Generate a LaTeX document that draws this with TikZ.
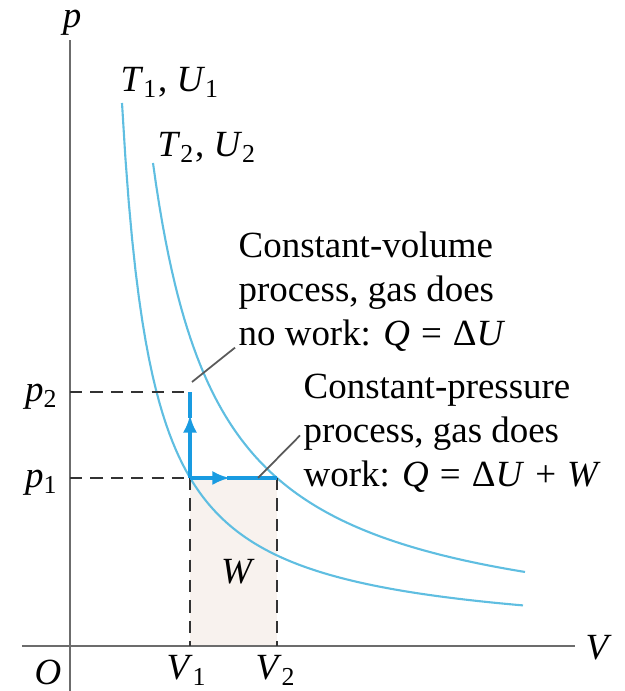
\documentclass[tikz,border=0pt]{standalone}
\usepackage{fontspec}
\setmainfont{Liberation Serif}
\usetikzlibrary{arrows.meta}

\definecolor{isoblue}{RGB}{95,190,225}
\definecolor{procblue}{RGB}{25,155,225}
\definecolor{workfill}{RGB}{248,242,238}

\newcommand{\sym}[2]{\textit{#1}\textsubscript{#2}}
\newcommand{\gap}{\hspace{0.3em}}

\tikzset{
  axis/.style={draw=gray!85!black, line width=0.7pt},
  guide/.style={draw=black!80, line width=0.65pt, dash pattern=on 3.5pt off 2.3pt},
  isotherm/.style={draw=isoblue, line width=0.6pt},
  process/.style={draw=procblue, line width=1.05pt},
  leader/.style={draw=gray!70!black, line width=0.5pt},
  lbl/.style={font=\fontsize{10.5}{12.6}\selectfont, inner sep=0pt},
  tip/.style={-{Latex[length=5pt,width=4pt]}},
}

\begin{document}
\begin{tikzpicture}[x=0.01cm,y=0.01cm]
\useasboundingbox (-70,-45) rectangle (555,646);

% work done at constant pressure
\fill[workfill] (120,0) rectangle (207,168);

% axes
\draw[axis] (0,-45) -- (0,606);
\draw[axis] (-48,0) -- (505,0);
\node[lbl] (plab) at (2,623) {\textit{p}};
\node[lbl,anchor=west] (vlab) at (515,-2) {\textit{V}};
\node[lbl] (olab) at (-22,-26) {\textit{O}};

% isotherms T1 and T2
\draw[isotherm] plot[domain=52:453,samples=120] (\x,{3+162*(100/(\x-22))});
\draw[isotherm] plot[domain=83:455,samples=120] (\x,{2.3+313.61*(100/(\x-17.76))});
\node[lbl,anchor=base west] (tu1) at (50,554) {\sym{T}{1}, \sym{U}{1}};
\node[lbl,anchor=base west] (tu2) at (87,489) {\sym{T}{2}, \sym{U}{2}};

% states
\coordinate (A) at (120,168);
\coordinate (B) at (120,254);
\coordinate (C) at (207,168);
\coordinate (P1) at (0,168);
\coordinate (P2) at (0,254);
\coordinate (V1) at (120,0);
\coordinate (V2) at (207,0);

\draw[guide] (P2) -- (B);
\draw[guide] (P1) -- (A);
\draw[guide] (A) -- (V1);
\draw[guide] (C) -- (V2);

\node[lbl,anchor=base east] (p2lab) at (-11,244) {\sym{p}{2}};
\node[lbl,anchor=base east] (p1lab) at (-11,158) {\sym{p}{1}};
\node[lbl,anchor=base] (v1lab) at (117,-34) {\sym{V}{1}};
\node[lbl,anchor=base] (v2lab) at (206,-34) {\sym{V}{2}};
\node[lbl] (wlab) at (168,74) {\textit{W}};

% the two processes
\draw[process,tip] (A) -- (120,231);
\draw[process] (120,228) -- (B);
\draw[process,tip] (A) -- (160,168);
\draw[process] (157,168) -- (C);

% notes
\node[lbl,anchor=north west,align=left] (cvtext) at (168,415)
  {Constant-volume\\process, gas does\\no work: \textit{Q}\gap=\gap Δ\textit{U}};
\node[lbl,anchor=north west,align=left] (cptext) at (233,273)
  {Constant-pressure\\process, gas does\\work: \textit{Q}\gap=\gap Δ\textit{U}\gap+\gap\textit{W}};
\coordinate (cvfoot) at (122,264);
\coordinate (cpfoot) at (188,168);
\draw[leader] (cvfoot) -- ([shift={(-3,5)}]cvtext.south west);
\draw[leader] (cpfoot) -- ([shift={(-3,58)}]cptext.south west);
\end{tikzpicture}
\end{document}
